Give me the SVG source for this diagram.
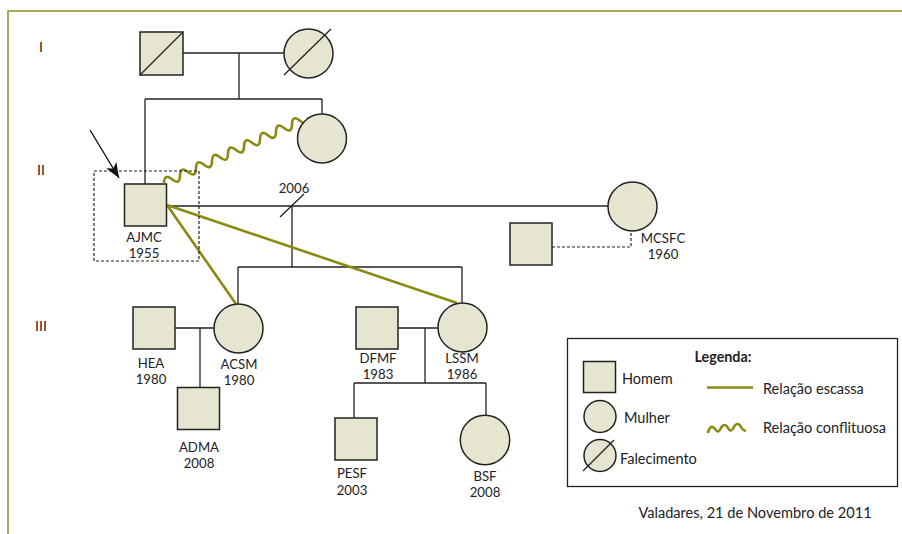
<svg xmlns="http://www.w3.org/2000/svg" width="902" height="534" viewBox="0 0 902 534">
<style>
.n{fill:#e6e6d0;stroke:#222;stroke-width:1.5}
.l{fill:none;stroke:#222;stroke-width:1.3}
.d{fill:none;stroke:#222;stroke-width:1.2;stroke-dasharray:3,2}
.g{fill:none;stroke:#8a8a12;stroke-width:2.6}
.w{fill:none;stroke:#8a8a12;stroke-width:2.6;stroke-linejoin:round}
text{font-family:Lato,"Noto Sans",sans-serif;font-size:13.2px;fill:#222;text-anchor:middle;dominant-baseline:central}
.s{text-anchor:start;font-size:14.5px}
.b{font-size:14px}
</style>
<defs>
<marker id="ah" markerWidth="16" markerHeight="12" refX="15" refY="6" orient="auto" markerUnits="userSpaceOnUse">
<path d="M0,0 L15,6 L0,12 L4,6 Z" fill="#111"/>
</marker>
</defs>
<rect width="902" height="534" fill="#fff"/>
<path d="M8,534 V11 H902" fill="none" stroke="#8f8f2a" stroke-width="1.5"/>
<text class="b" x="41" y="46">I</text>
<text class="b" x="41" y="169">II</text>
<text class="b" x="41" y="325">III</text>

<g id="connectors">
<path class="l" d="M183,53 H284 M239,53 V99 M145,99 H322 M145,99 V184 M322,99 V114"/>
<path class="l" d="M167,206 H608 M280,217 L304,194 M292,206 V267 M238,267 H462 M238,267 V304 M462,267 V303"/>
<path class="d" d="M552,247 H631 V231"/>
<path class="l" d="M175,328 H214 M200,328 V387"/>
<path class="l" d="M398,328 H438 M425,328 V383 M354,383 H486 M354,383 V418 M486,383 V415"/>
<path class="g" d="M167,205 L236,304 M167,205 L457,303"/>
<g transform="translate(164,183) rotate(-24.6)">
<path class="w" d="M0,0 q4.4,-9 8.8,0 t8.8,0 t8.8,0 t8.8,0 t8.8,0 t8.8,0 t8.8,0 t8.8,0 t8.8,0 t8.8,0 t8.8,0 t8.8,0 t8.8,0 t8.8,0 t8.8,0 t8.8,0 t8.8,0 t8.8,0"/>
</g>
<path d="M90,130 L119,178" fill="none" stroke="#111" stroke-width="1.4" marker-end="url(#ah)"/>
<rect class="d" x="94" y="171" width="105" height="90"/>
</g>

<g id="I-1"><rect class="n" x="140" y="32" width="43" height="43"/><path class="l" d="M140,75 L183,32"/></g>
<g id="I-2"><circle class="n" cx="308.5" cy="53.5" r="24.5"/><path class="l" d="M284,75 L331,29"/></g>
<g id="II-sister"><circle class="n" cx="322" cy="138.5" r="24.5"/></g>
<g id="AJMC"><rect class="n" x="124.5" y="184" width="42" height="42"/><text x="144" y="237">AJMC<tspan x="144" dy="16">1955</tspan></text></g>
<g id="MCSFC"><circle class="n" cx="632.5" cy="206.5" r="24.5"/><text x="663" y="238">MCSFC<tspan x="663" dy="16">1960</tspan></text></g>
<g id="MCSFC-partner"><rect class="n" x="510" y="223" width="42" height="42"/></g>
<text x="294" y="188">2006</text>
<g id="HEA"><rect class="n" x="133" y="307" width="42" height="42"/><text x="151" y="363">HEA<tspan x="151" dy="16">1980</tspan></text></g>
<g id="ACSM"><circle class="n" cx="238.5" cy="328.5" r="24.5"/><text x="239" y="364">ACSM<tspan x="239" dy="16">1980</tspan></text></g>
<g id="ADMA"><rect class="n" x="177.5" y="387.5" width="42" height="42"/><text x="199" y="447">ADMA<tspan x="199" dy="16">2008</tspan></text></g>
<g id="DFMF"><rect class="n" x="356" y="307" width="42" height="42"/><text x="378" y="358">DFMF<tspan x="378" dy="16">1983</tspan></text></g>
<g id="LSSM"><circle class="n" cx="462.5" cy="327.5" r="24.5"/><text x="462" y="358">LSSM<tspan x="462" dy="16">1986</tspan></text></g>
<g id="PESF"><rect class="n" x="335" y="418" width="42" height="42"/><text x="352" y="473">PESF<tspan x="352" dy="17">2003</tspan></text></g>
<g id="BSF"><circle class="n" cx="485" cy="440" r="24.7"/><text x="485" y="476">BSF<tspan x="485" dy="16">2008</tspan></text></g>

<g id="legend">
<rect x="567.5" y="338.5" width="330" height="148" fill="#fff" stroke="#222" stroke-width="1.3"/>
<text x="723" y="356" style="font-weight:bold;font-size:14.3px">Legenda:</text>
<rect class="n" x="583.5" y="361.5" width="32" height="31"/>
<text class="s" x="622" y="378">Homem</text>
<circle class="n" cx="600" cy="416.5" r="16"/>
<text class="s" x="624" y="417">Mulher</text>
<circle class="n" cx="600" cy="455.5" r="16"/>
<path class="l" d="M583,471 L614,440"/>
<text class="s" x="620" y="458">Falecimento</text>
<path class="g" d="M707,387.5 H753"/>
<text class="s" x="763" y="388">Relação escassa</text>
<path class="w" d="M708,433 c1,-6 4,-8 7,-4 s4,3 6,-1 s5,-4 7,0 s4,3 6,-1 s5,-4 7,0 s3,3 5,4"/>
<text class="s" x="763" y="427">Relação conflituosa</text>
</g>
<text x="755" y="512" style="font-size:14.6px">Valadares, 21 de Novembro de 2011</text>
</svg>
